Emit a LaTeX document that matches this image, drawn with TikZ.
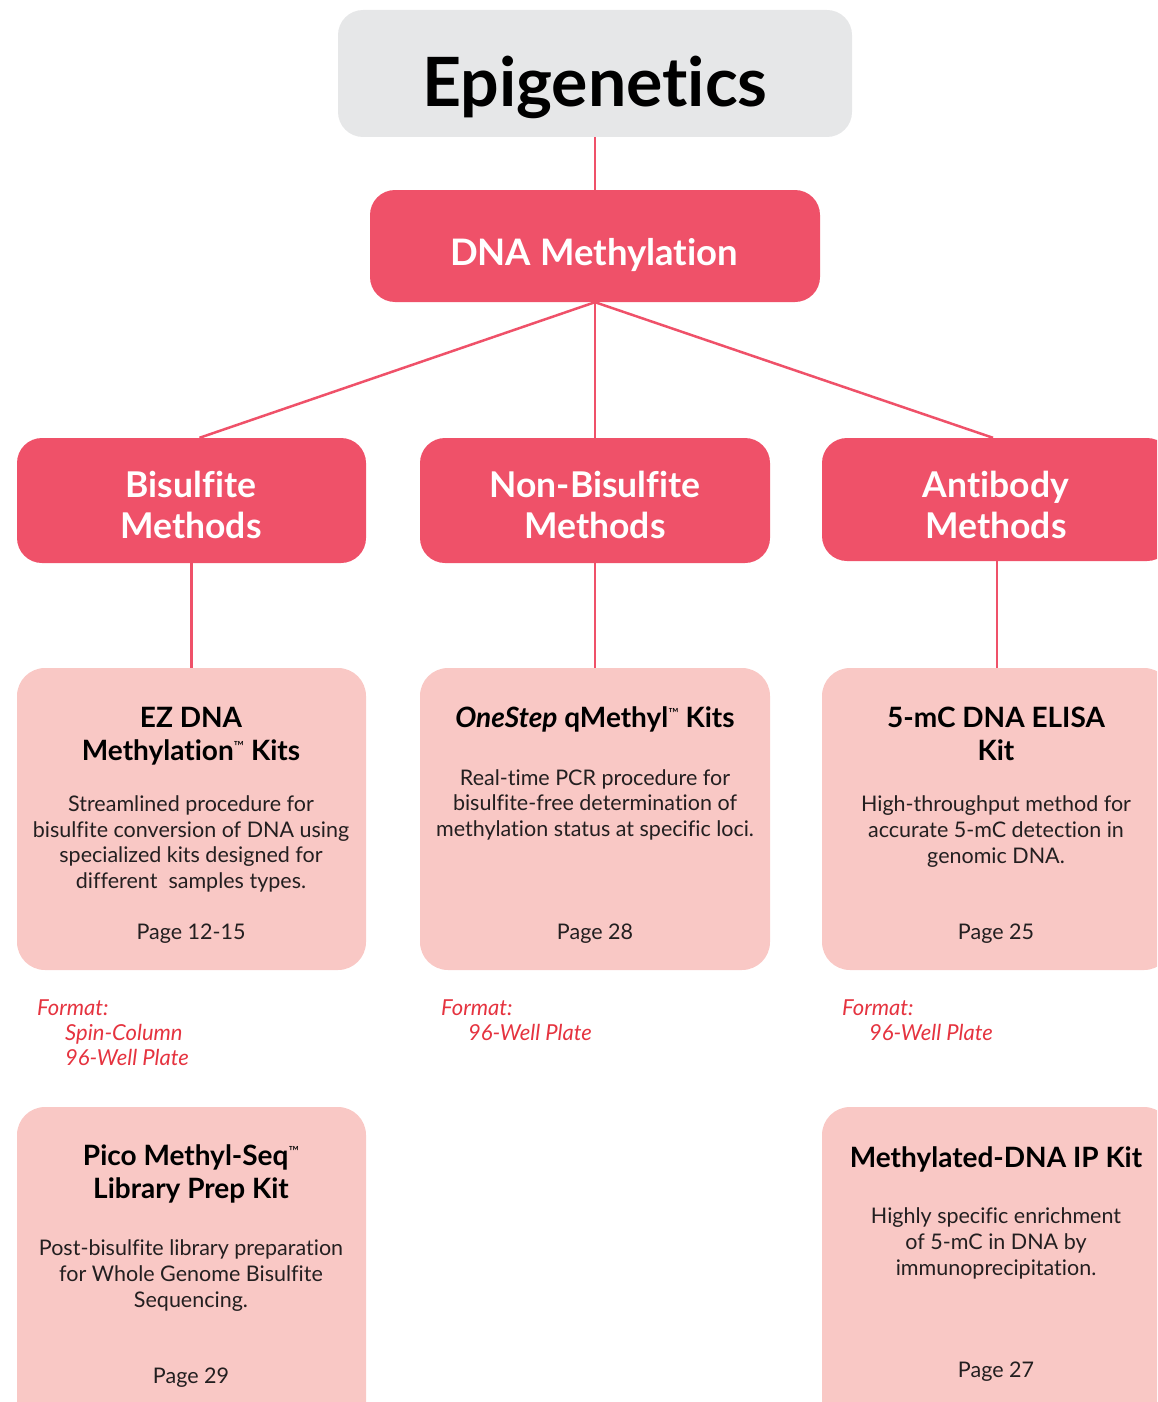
\documentclass[tikz,border=0pt]{standalone}
\usepackage{fontspec}
\setmainfont{Lato}[Ligatures=NoCommon]
\definecolor{dpink}{HTML}{EF5169}
\definecolor{lpink}{HTML}{F9C8C5}
\definecolor{lgray}{HTML}{E6E7E8}
\definecolor{fmtred}{HTML}{E5333F}
\definecolor{txt}{HTML}{231F20}
\newcommand\fsz[2]{\fontsize{#1}{#2}\selectfont}
\newcommand\tmk{\raisebox{9pt}{\fsz{14}{14}\mdseries ™}}
\begin{document}
\begin{tikzpicture}[x=1pt,y=-1pt,
  darkbox/.style={draw=none,fill=dpink,rounded corners=25pt,inner sep=0pt},
  lightbox/.style={draw=none,fill=lpink,rounded corners=28pt,inner sep=0pt},
  conn/.style={draw=dpink,line width=2.5pt},
  toptxt/.style={anchor=base,align=center,text=white,font=\fsz{35.5}{41}\bfseries,inner sep=0pt},
  kittitle/.style={anchor=base,align=center,text=black,font=\fsz{28}{33}\bfseries,inner sep=0pt},
  body/.style={anchor=base,align=center,text=txt,font=\fsz{21.5}{25.6},inner sep=0pt},
  fmt/.style={anchor=base west,align=left,text=fmtred,font=\fsz{22}{25}\itshape,inner sep=0pt}]
\useasboundingbox (0,0) rectangle (1157,1402);
\clip (0,0) rectangle (1157,1402);
% boxes
\node[darkbox,fill=lgray,minimum width=514pt,minimum height=127pt] (epi) at (595,73.5) {};
\node[darkbox,minimum width=450pt,minimum height=112pt] (dna) at (595,246) {};
\node[darkbox,minimum width=349pt,minimum height=125pt] (bis) at (191.5,500.5) {};
\node[darkbox,minimum width=350pt,minimum height=125pt] (non) at (595,500.5) {};
\node[darkbox,minimum width=350pt,minimum height=123pt] (ab) at (997,499.5) {};
\node[lightbox,minimum width=349pt,minimum height=302pt] (ez) at (191.5,819) {};
\node[lightbox,minimum width=350pt,minimum height=302pt] (one) at (595,819) {};
\node[lightbox,minimum width=350pt,minimum height=302pt] (eli) at (997,819) {};
\node[lightbox,minimum width=349pt,minimum height=323pt] (pico) at (191.5,1268.5) {};
\node[lightbox,minimum width=350pt,minimum height=323pt] (medip) at (997,1268.5) {};
% connectors
\draw[conn] (epi.south) -- (dna.north);
\draw[conn] (dna.south) -- ([xshift=8pt]bis.north);
\draw[conn] (dna.south) -- (non.north);
\draw[conn] (dna.south) -- ([xshift=-4pt]ab.north);
\draw[conn] (bis.south) -- (ez.north);
\draw[conn] (non.south) -- (one.north);
\draw[conn] (ab.south) -- (eli.north);
% texts (base anchor = baseline of last line)
\node[anchor=base,inner sep=0pt,font=\fsz{68}{68}\bfseries] (tepi) at (595,107) {Epigenetics};
\node[toptxt,font=\fsz{36.5}{36.5}\bfseries] (tdna) at (594,265) {DNA Methylation};
\node[toptxt] (tbis) at (191,538) {Bisulfite\\Methods};
\node[toptxt] (tnon) at (595,538) {Non-Bisulfite\\Methods};
\node[toptxt] (tab) at (996,538) {Antibody\\Methods};
% EZ
\node[kittitle] (tez) at (191,760) {EZ DNA\\Methylation\tmk{} Kits};
\node[body] (bez) at (191,888.5) {Streamlined procedure for\\bisulfite conversion of DNA using\\specialized kits designed for\\different\ \ samples types.};
\node[body] (pez) at (191,939) {Page 12-15};
% OneStep
\node[kittitle] (tone) at (595,727) {\textit{OneStep} qMethyl\tmk{} Kits};
\node[body] (bone) at (595,836.5) {Real-time PCR procedure for\\bisulfite-free determination of\\methylation status at specific loci.};
\node[body] (pone) at (595,939) {Page 28};
% ELISA
\node[kittitle] (teli) at (996,760) {5-mC DNA ELISA\\Kit};
\node[body] (beli) at (996,863) {High-throughput method for\\accurate 5-mC detection in\\genomic DNA.};
\node[body] (peli) at (996,939) {Page 25};
% formats
\node[fmt] (f1a) at (37,1015) {Format:};
\node[fmt] (f1b) at (65,1065) {Spin-Column\\96-Well Plate};
\node[fmt] (f2a) at (441,1015) {Format:};
\node[fmt] (f2b) at (468,1040) {96-Well Plate};
\node[fmt] (f3a) at (842,1015) {Format:};
\node[fmt] (f3b) at (869,1040) {96-Well Plate};
% Pico
\node[kittitle] (tpico) at (191,1198) {Pico Methyl-Seq\tmk\\Library Prep Kit};
\node[body] (bpico) at (191,1307) {Post-bisulfite library preparation\\for Whole Genome Bisulfite\\Sequencing.};
\node[body] (ppico) at (191,1383) {Page 29};
% MeDIP
\node[kittitle] (tmed) at (996,1167) {Methylated-DNA IP Kit};
\node[body] (bmed) at (996,1275) {Highly specific enrichment\\of 5-mC in DNA by\\immunoprecipitation.};
\node[body] (pmed) at (996,1377) {Page 27};
\end{tikzpicture}
\end{document}
